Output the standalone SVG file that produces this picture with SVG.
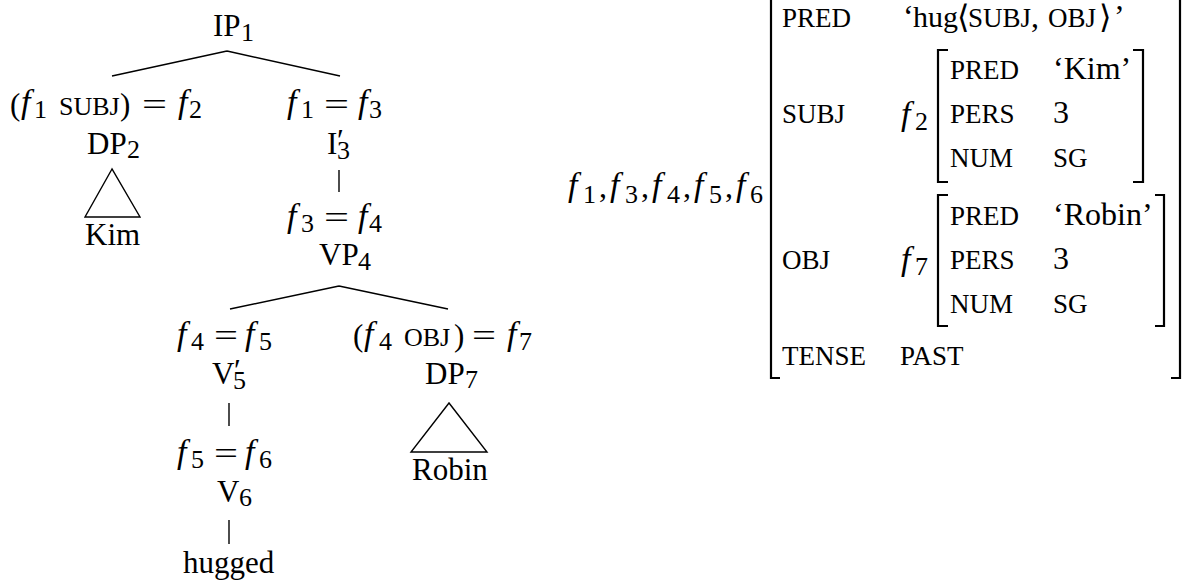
<svg xmlns="http://www.w3.org/2000/svg" width="1186" height="581" viewBox="0 0 1186 581" font-family="'Liberation Serif', serif">
<style>
text, tspan{font-family:"Liberation Serif","Times New Roman",serif;fill:#000}
.n{font-size:31px}
.sc{font-size:26px;font-family:"Liberation Serif",serif}
.sub{font-size:26px;font-family:"Liberation Serif",serif}
.f{font-size:34px;font-style:italic;font-family:"Liberation Serif",serif}
.a{font-size:32px}
.asc{font-size:27px;font-family:"Liberation Serif",serif}
.ang{font-size:32px;font-family:"DejaVu Serif","DejaVu Sans",serif}
.ln{stroke:#000;stroke-width:1.4;fill:none}
.br{stroke:#000;stroke-width:2.2;fill:none;stroke-linejoin:miter}
</style>
<rect width="1186" height="581" fill="#fff"/>

<g id="connectors">
<path class="ln" d="M227 51 L112 76 M227 51 L340 76"/>
<path class="ln" d="M339 170 V192"/>
<path class="ln" d="M339 286 L230 309 M339 286 L448 309"/>
<path class="ln" d="M229 403 V426"/>
<path class="ln" d="M229 520 V544"/>
</g>

<g id="node-IP1">
<text class="n"><tspan x="213" y="36">IP</tspan><tspan class="sub" x="241" y="41">1</tspan></text>
</g>

<g id="node-DP2">
<text class="n"><tspan x="10" y="115">(</tspan><tspan class="f" x="21" y="113">f</tspan><tspan class="sub" x="34" y="118">1</tspan><tspan class="sc" x="59" y="115">SUBJ</tspan><tspan x="120" y="115">)</tspan></text>
<text class="n" x="142" y="115" textLength="25" lengthAdjust="spacingAndGlyphs">=</text>
<text class="n"><tspan class="f" x="178" y="113">f</tspan><tspan class="sub" x="189" y="118">2</tspan></text>
<text class="n"><tspan x="87" y="154">DP</tspan><tspan class="sub" x="127" y="158">2</tspan></text>
</g>

<g id="node-Kim">
<polygon class="ln" points="112,169 85,217 140,217"/>
<text class="n" x="85" y="245">Kim</text>
</g>

<g id="node-I3">
<text class="n"><tspan class="f" x="287" y="113">f</tspan><tspan class="sub" x="301" y="118">1</tspan></text>
<text class="n" x="324" y="115" textLength="25" lengthAdjust="spacingAndGlyphs">=</text>
<text class="n"><tspan class="f" x="358" y="113">f</tspan><tspan class="sub" x="369" y="118">3</tspan></text>
<text class="n"><tspan x="327" y="154">I</tspan><tspan x="337" y="151">′</tspan><tspan class="sub" x="337" y="159">3</tspan></text>
</g>

<g id="node-VP4">
<text class="n"><tspan class="f" x="287" y="227">f</tspan><tspan class="sub" x="301" y="232">3</tspan></text>
<text class="n" x="324" y="228" textLength="25" lengthAdjust="spacingAndGlyphs">=</text>
<text class="n"><tspan class="f" x="358" y="227">f</tspan><tspan class="sub" x="369" y="232">4</tspan></text>
<text class="n"><tspan x="319" y="265">VP</tspan><tspan class="sub" x="358" y="270">4</tspan></text>
</g>

<g id="node-V5">
<text class="n"><tspan class="f" x="177" y="345">f</tspan><tspan class="sub" x="191" y="350">4</tspan></text>
<text class="n" x="214" y="346" textLength="24" lengthAdjust="spacingAndGlyphs">=</text>
<text class="n"><tspan class="f" x="245" y="345">f</tspan><tspan class="sub" x="259" y="350">5</tspan></text>
<text class="n"><tspan x="212" y="384">V</tspan><tspan x="234" y="381">′</tspan><tspan class="sub" x="233" y="389">5</tspan></text>
</g>

<g id="node-DP7">
<text class="n"><tspan x="353" y="346">(</tspan><tspan class="f" x="364" y="345">f</tspan><tspan class="sub" x="379" y="350">4</tspan><tspan class="sc" x="404" y="346">OBJ</tspan><tspan x="454" y="346">)</tspan></text>
<text class="n" x="472" y="346" textLength="24" lengthAdjust="spacingAndGlyphs">=</text>
<text class="n"><tspan class="f" x="507" y="345">f</tspan><tspan class="sub" x="519" y="350">7</tspan></text>
<text class="n"><tspan x="425" y="384">DP</tspan><tspan class="sub" x="465" y="388">7</tspan></text>
</g>

<g id="node-Robin">
<polygon class="ln" points="449,403 411,452 487,452"/>
<text class="n" x="412" y="480">Robin</text>
</g>

<g id="node-V6">
<text class="n"><tspan class="f" x="177" y="463">f</tspan><tspan class="sub" x="191" y="468">5</tspan></text>
<text class="n" x="214" y="464" textLength="24" lengthAdjust="spacingAndGlyphs">=</text>
<text class="n"><tspan class="f" x="245" y="463">f</tspan><tspan class="sub" x="259" y="468">6</tspan></text>
<text class="n"><tspan x="217" y="502">V</tspan><tspan class="sub" x="239" y="506">6</tspan></text>
</g>

<g id="node-hugged">
<text class="n" x="183" y="573">hugged</text>
</g>

<g id="avm">
<text class="a"><tspan class="f" x="568" y="196">f</tspan><tspan class="sub" x="583" y="203">1</tspan><tspan x="599" y="197">,</tspan><tspan class="f" x="610" y="196">f</tspan><tspan class="sub" x="625" y="203">3</tspan><tspan x="641" y="197">,</tspan><tspan class="f" x="652" y="196">f</tspan><tspan class="sub" x="667" y="203">4</tspan><tspan x="683" y="197">,</tspan><tspan class="f" x="694" y="196">f</tspan><tspan class="sub" x="709" y="203">5</tspan><tspan x="725" y="197">,</tspan><tspan class="f" x="736" y="196">f</tspan><tspan class="sub" x="750" y="203">6</tspan></text>
<path class="br" d="M771 -5 V378 H780"/>
<path class="br" d="M1180 -5 V378 H1171"/>

<text class="asc" x="782" y="27">PRED</text>
<text class="a"><tspan x="903" y="27">‘</tspan><tspan x="913" y="27" style="font-size:30px">hug</tspan><tspan class="ang" x="957" y="28">⟨</tspan><tspan class="asc" x="968" y="27">SUBJ</tspan><tspan x="1031" y="27">,</tspan><tspan class="asc" x="1048" y="27">OBJ</tspan><tspan class="ang" x="1099" y="28">⟩</tspan><tspan x="1114" y="27">’</tspan></text>

<text class="asc" x="782" y="123">SUBJ</text>
<text class="a"><tspan class="f" x="901" y="125">f</tspan><tspan class="sub" x="915" y="130">2</tspan></text>
<path class="br" d="M948 50 H938 V182 H948"/>
<path class="br" d="M1133 50 H1143 V182 H1133"/>
<text class="asc" x="950" y="79">PRED</text>
<text class="a" x="1053" y="79">‘Kim’</text>
<text class="asc" x="950" y="123">PERS</text>
<text class="a" x="1053" y="123">3</text>
<text class="asc" x="950" y="167">NUM</text>
<text class="asc" x="1053" y="167">SG</text>

<text class="asc" x="782" y="269">OBJ</text>
<text class="a"><tspan class="f" x="901" y="270">f</tspan><tspan class="sub" x="915" y="275">7</tspan></text>
<path class="br" d="M948 195 H938 V326 H948"/>
<path class="br" d="M1155 195 H1164 V326 H1155"/>
<text class="asc" x="950" y="225">PRED</text>
<text class="a" x="1053" y="225">‘Robin’</text>
<text class="asc" x="950" y="269">PERS</text>
<text class="a" x="1053" y="269">3</text>
<text class="asc" x="950" y="313">NUM</text>
<text class="asc" x="1053" y="313">SG</text>

<text class="asc" x="782" y="365">TENSE</text>
<text class="asc" x="900" y="365">PAST</text>
</g>
</svg>
